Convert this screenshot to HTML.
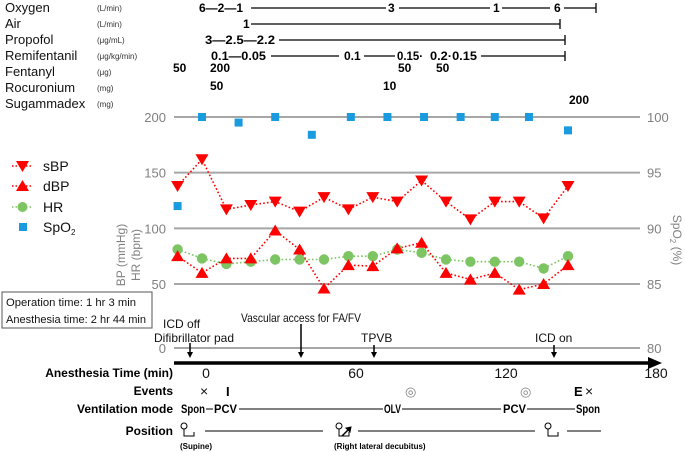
<!DOCTYPE html>
<html><head><meta charset="utf-8">
<style>
html,body{margin:0;padding:0;background:#fff;}
svg{display:block;font-family:"Liberation Sans Narrow","Liberation Sans",sans-serif;}
.lab{font-size:13px;fill:#111;}
.unit{font-size:8px;fill:#333;}
.val{font-size:12px;font-weight:bold;fill:#000;}
.tick{font-size:13px;fill:#808080;}
.b{font-size:12px;font-weight:bold;fill:#000;}
</style></head>
<body>
<svg id="chart" width="685" height="452" viewBox="0 0 685 452" xmlns="http://www.w3.org/2000/svg">
<g>
<text class="lab" x="5" y="12">Oxygen</text><text class="unit" x="97" y="11">(L/min)</text>
<text class="lab" x="5" y="28">Air</text><text class="unit" x="97" y="27">(L/min)</text>
<text class="lab" x="5" y="44">Propofol</text><text class="unit" x="97" y="43">(μg/mL)</text>
<text class="lab" x="5" y="60">Remifentanil</text><text class="unit" x="97" y="59">(μg/kg/min)</text>
<text class="lab" x="5" y="76">Fentanyl</text><text class="unit" x="97" y="75">(μg)</text>
<text class="lab" x="5" y="92">Rocuronium</text><text class="unit" x="97" y="91">(mg)</text>
<text class="lab" x="5" y="108">Sugammadex</text><text class="unit" x="97" y="107">(mg)</text>
</g>
<g stroke="#000" stroke-width="1.3">
<text class="val" x="199" y="12" stroke="none">6—2—1</text>
<line x1="251" y1="8" x2="386" y2="8"/><text class="val" x="388" y="12" stroke="none">3</text>
<line x1="399" y1="8" x2="490" y2="8"/><text class="val" x="493" y="12" stroke="none">1</text>
<line x1="502" y1="8" x2="550" y2="8"/><text class="val" x="554" y="12" stroke="none">6</text>
<line x1="564" y1="8" x2="596" y2="8"/><line x1="596" y1="3" x2="596" y2="13"/>
<text class="val" x="243" y="28" stroke="none">1</text>
<line x1="251" y1="24" x2="560" y2="24"/><line x1="560" y1="19" x2="560" y2="29"/>
<text class="val" x="205" y="44" stroke="none" textLength="70" lengthAdjust="spacingAndGlyphs">3—2.5—2.2</text>
<line x1="279" y1="40" x2="565" y2="40"/><line x1="565" y1="35" x2="565" y2="45"/>
<text class="val" x="211" y="60" stroke="none" textLength="55" lengthAdjust="spacingAndGlyphs">0.1—0.05</text>
<line x1="271" y1="56" x2="339" y2="56"/><text class="val" x="344" y="60" stroke="none">0.1</text>
<line x1="364" y1="56" x2="395" y2="56"/><text class="val" x="397" y="60" stroke="none" textLength="26" lengthAdjust="spacingAndGlyphs">0.15·</text>
<text class="val" x="430" y="60" stroke="none" textLength="47" lengthAdjust="spacingAndGlyphs">0.2·0.15</text>
<line x1="481" y1="56" x2="565" y2="56"/><line x1="565" y1="51" x2="565" y2="61"/>
<text class="val" x="173" y="72" stroke="none">50</text>
<text class="val" x="210" y="72" stroke="none">200</text>
<text class="val" x="398" y="72" stroke="none">50</text>
<text class="val" x="436" y="72" stroke="none">50</text>
<text class="val" x="210" y="90" stroke="none">50</text>
<text class="val" x="383" y="90" stroke="none">10</text>
<text class="val" x="569" y="104" stroke="none">200</text>
</g>
<g id="grid"></g>
<g id="series"></g>
<g>
<g>
<line x1="12" y1="166" x2="33" y2="166" stroke="red" stroke-width="1.5" stroke-dasharray="1.5,2"/>
<polygon points="16,161 29,161 22.5,172" fill="red"/><text class="lab" x="43" y="171" style="font-size:14px">sBP</text></g>
<g>
<line x1="12" y1="186" x2="33" y2="186" stroke="red" stroke-width="1.5" stroke-dasharray="1.5,2"/>
<polygon points="16,191 29,191 22.5,180" fill="red"/><text class="lab" x="43" y="191" style="font-size:14px">dBP</text></g>
<g>
<line x1="12" y1="207" x2="33" y2="207" stroke="#7dc462" stroke-width="1.5" stroke-dasharray="1.5,2"/>
<circle cx="22.5" cy="207" r="5" fill="#7dc462"/><text class="lab" x="43" y="212" style="font-size:14px">HR</text></g>
<g>
<rect x="19" y="223" width="8" height="8" fill="#1a9be0"/><text class="lab" x="43" y="232" style="font-size:14px">SpO<tspan font-size="8" dy="3">2</tspan></text></g>
</g>
<text class="tick" transform="translate(125,255) rotate(-90)" text-anchor="middle" style="font-size:12px">BP (mmHg)</text>
<text class="tick" transform="translate(140,255) rotate(-90)" text-anchor="middle" style="font-size:12px">HR (bpm)</text>
<text class="tick" transform="translate(673,240) rotate(90)" text-anchor="middle" style="font-size:12px">SpO<tspan font-size="8" dy="3">2</tspan><tspan dy="-3"> (%)</tspan></text>
<g>
<rect x="2" y="292" width="150" height="36" fill="#fff" stroke="#555" stroke-width="1"/>
<text class="lab" x="6" y="306" style="font-size:11px" textLength="130" lengthAdjust="spacingAndGlyphs">Operation time: 1 hr 3 min</text>
<text class="lab" x="6" y="323" style="font-size:11px" textLength="140" lengthAdjust="spacingAndGlyphs">Anesthesia time: 2 hr 44 min</text>
</g>
<g>
<text class="lab" x="163" y="328" style="font-size:12px">ICD off</text>
<text class="lab" x="154" y="342" style="font-size:12px" textLength="80" lengthAdjust="spacingAndGlyphs">Difibrillator pad</text>
<text class="lab" x="241" y="322" style="font-size:12px" textLength="120" lengthAdjust="spacingAndGlyphs">Vascular access for FA/FV</text>
<text class="lab" x="361" y="342" style="font-size:12px">TPVB</text>
<text class="lab" x="535" y="342" style="font-size:12px">ICD on</text>
</g>
<g id="arrows" stroke="#000" stroke-width="1.5" fill="#000"></g>
<g>
<line x1="174" y1="363" x2="650" y2="363" stroke="#000" stroke-width="3.5"/>
<polygon points="648,357 662,363 648,369" fill="#000"/>
</g>
<text class="b" x="173" y="377" text-anchor="end" style="font-size:12px">Anesthesia Time (min)</text>
<g id="xticks"></g>
<g>
<text class="b" x="173" y="395" text-anchor="end">Events</text>
<text class="lab" x="200" y="396" style="font-size:14px">×</text>
<text class="b" x="226" y="396" style="font-size:13px">I</text>
<text class="tick" x="405" y="396" style="font-size:13px">◎</text>
<text class="tick" x="520" y="396" style="font-size:13px">◎</text>
<text class="b" x="574" y="396" style="font-size:13px">E</text>
<text class="lab" x="585" y="396" style="font-size:14px">×</text>
</g>
<g stroke="#000" stroke-width="1">
<text class="b" x="173" y="413" text-anchor="end" stroke="none">Ventilation mode</text>
<text class="b" x="181" y="413" stroke="none" textLength="24" lengthAdjust="spacingAndGlyphs">Spon</text><line x1="206" y1="409" x2="213" y2="409"/>
<text class="b" x="214" y="413" stroke="none" textLength="23" lengthAdjust="spacingAndGlyphs">PCV</text><line x1="239" y1="409" x2="383" y2="409"/>
<text class="b" x="384" y="413" stroke="none" textLength="17" lengthAdjust="spacingAndGlyphs">OLV</text><line x1="402" y1="409" x2="501" y2="409"/>
<text class="b" x="503" y="413" stroke="none" textLength="23" lengthAdjust="spacingAndGlyphs">PCV</text><line x1="527" y1="409" x2="575" y2="409"/>
<text class="b" x="576" y="413" stroke="none" textLength="24" lengthAdjust="spacingAndGlyphs">Spon</text>
</g>
<g stroke="#000" stroke-width="1" fill="none">
<text class="b" x="173" y="435" text-anchor="end" stroke="none" fill="#000">Position</text>
<circle cx="184" cy="426" r="3"/><path d="M184,429 v7 h10 v-4"/>
<line x1="205" y1="431" x2="323" y2="431"/>
<circle cx="339" cy="426" r="3"/><path d="M339,429 v7 h10 v-4"/><path d="M342,436 l8,-8" stroke-width="1.5"/><polygon points="351,427 346,428 350,432" fill="#000"/>
<line x1="358" y1="431" x2="535" y2="431"/>
<circle cx="548" cy="426" r="3"/><path d="M548,429 v7 h10 v-4"/>
<line x1="567" y1="431" x2="601" y2="431"/>
<text class="b" x="180" y="449" stroke="none" fill="#000" style="font-size:8px">(Supine)</text>
<text class="b" x="334" y="449" stroke="none" fill="#000" style="font-size:8px">(Right lateral decubitus)</text>
</g>
</svg>
<script>
const bpTimes=[-10,0,10,20,30,40,50,60,70,80,90,100,110,120,130,140,150];
const sbpValues=[138,162,117,121,124,115,128,117,128,124,143,124,108,124,124,109,138];
const dbpValues=[75,60,73,73,98,81,46,67,66,82,87,60,54,60,45,50,67];
const hrValues=[81,73,68,70,72,72,72,75,75,81,78,72,70,70,70,64,75];
const spo2Times=[-10,0,15,30,45,61,76,91,106,120,134,150];
const spo2Values=[92,100,99.5,100,98.4,100,100,100,100,100,100,98.8];
const leftTicks=[200,150,100,50];
const rightTicks=[100,95,90,85];
const xTickLabels=[0,60,120,180];
const NS='http://www.w3.org/2000/svg';
function xT(t){return 202+t*2.44;}
function yL(v){return 284-(v-50)*1.1133;}
function yR(v){return 284-(v-85)*11.133;}
function xA(t){return 206+t*2.5;}
function mk(tag,attrs,parent){const e=document.createElementNS(NS,tag);for(const k in attrs)e.setAttribute(k,attrs[k]);parent.appendChild(e);return e;}
const grid=document.getElementById('grid');
leftTicks.forEach(v=>{
  const l=mk('line',{x1:174,x2:640,y1:yL(v),y2:yL(v),stroke:'#a6a6a6','stroke-width':2},grid);
  
  
  const t=mk('text',{x:166,y:yL(v)+5,'text-anchor':'end',class:'tick'},grid);t.textContent=v;
  
  
});
rightTicks.forEach(v=>{
  const t=mk('text',{x:647,y:yR(v)+5,class:'tick'},grid);t.textContent=v;
  
  
});
const z=mk('line',{x1:174,x2:640,y1:348,y2:348,stroke:'#a6a6a6','stroke-width':2},grid);


const z0=mk('text',{x:166,y:353,'text-anchor':'end',class:'tick'},grid);z0.textContent='0';


const z8=mk('text',{x:647,y:353,class:'tick'},grid);z8.textContent='80';



const S=document.getElementById('series');
function line(vals,times,color,name){
  const pts=vals.map((v,i)=>xT(times[i]).toFixed(1)+','+yL(v).toFixed(1)).join(' ');
  const p=mk('polyline',{points:pts,fill:'none',stroke:color,'stroke-width':1.6,'stroke-dasharray':'1.6,2.2'},S);
  
  
}
line(hrValues,bpTimes,'#7dc462','hr-line');
line(sbpValues,bpTimes,'#ff0000','sbp-line');
line(dbpValues,bpTimes,'#ff0000','dbp-line');
hrValues.forEach((v,i)=>{
  const c=mk('circle',{cx:xT(bpTimes[i]),cy:yL(v),r:5.2,fill:'#7dc462'},S);
  
  
});
sbpValues.forEach((v,i)=>{
  const x=xT(bpTimes[i]),y=yL(v);
  const p=mk('polygon',{points:`${x-6.5},${y-5} ${x+6.5},${y-5} ${x},${y+6}`,fill:'#ff0000'},S);
  
  
});
dbpValues.forEach((v,i)=>{
  const x=xT(bpTimes[i]),y=yL(v);
  const p=mk('polygon',{points:`${x-6.5},${y+5} ${x+6.5},${y+5} ${x},${y-6}`,fill:'#ff0000'},S);
  
  
});
spo2Values.forEach((v,i)=>{
  const r=mk('rect',{x:xT(spo2Times[i])-4,y:yR(v)-4,width:8,height:8,fill:'#1a9be0'},S);
  
  
});
const XT=document.getElementById('xticks');
xTickLabels.forEach(v=>{
  const t=mk('text',{x:xA(v),y:378,'text-anchor':'middle',class:'lab',style:'font-size:14px'},XT);t.textContent=v;
  
  
});
const A=document.getElementById('arrows');
[[190,343],[301,324],[374,345],[554,345]].forEach(a=>{
  const g=mk('g',{},A);
  
  
  mk('line',{x1:a[0],y1:a[1],x2:a[0],y2:354},g);
  mk('polygon',{points:`${a[0]-3},352 ${a[0]+3},352 ${a[0]},358`,stroke:'none'},g);
});
</script>
</body></html>
